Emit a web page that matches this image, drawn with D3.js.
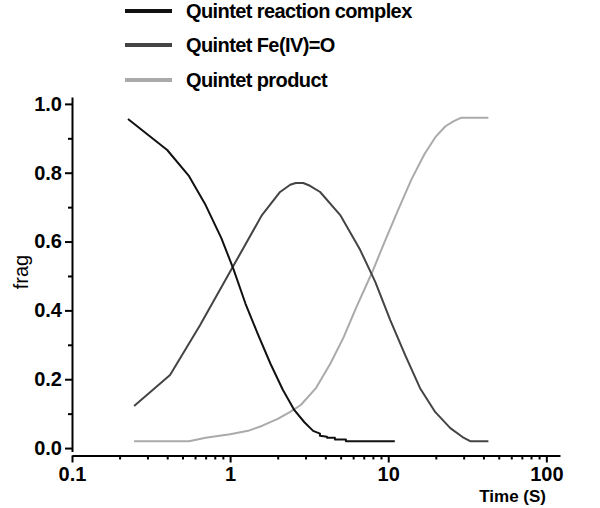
<!DOCTYPE html>
<html lang="en">
<head>
<meta charset="utf-8">
<title>frag vs time</title>
<script src="https://d3js.org/d3.v7.min.js"></script>
<style>
  body { margin: 0; background: #fff; }
  #chart1 { width: 600px; height: 508px; }
  text { font-family: "Liberation Sans", Arial, sans-serif; }
</style>
</head>
<body>
<div id="chart1"></div>
<script>
// Quintet reaction complex
const reactionTime = [0.226, 0.40, 0.55, 0.70, 0.88, 1.05, 1.25, 1.5, 1.8, 2.15, 2.55, 2.95, 3.35, 3.7, 3.7, 4.1, 4.1, 4.6, 4.6, 5.4, 5.4, 11]
const reactionFrag = [0.956, 0.866, 0.79, 0.706, 0.61, 0.52, 0.42, 0.33, 0.245, 0.17, 0.11, 0.075, 0.05, 0.042, 0.036, 0.033, 0.03, 0.03, 0.025, 0.025, 0.02, 0.02]

// Quintet Fe(IV)=O
const feoTime = [0.247, 0.417, 0.645, 1.03, 1.59, 2.07, 2.4, 2.6, 2.9, 3.2, 3.71, 4.97, 6.64, 8.28, 10.3, 12.8, 15.9, 19.8, 24.7, 29.5, 33, 43]
const feoFrag = [0.122, 0.212, 0.357, 0.523, 0.677, 0.744, 0.765, 0.77, 0.77, 0.762, 0.744, 0.677, 0.576, 0.483, 0.372, 0.27, 0.174, 0.105, 0.058, 0.032, 0.02, 0.02]

// Quintet product
const productTime = [0.247, 0.55, 0.7, 1.0, 1.3, 1.6, 2.0, 2.4, 2.8, 3.5, 4.3, 5.2, 6.3, 7.9, 9.5, 11.5, 14, 17, 20, 23, 26, 29, 43]
const productFrag = [0.02, 0.02, 0.03, 0.04, 0.05, 0.065, 0.085, 0.105, 0.125, 0.175, 0.245, 0.32, 0.41, 0.51, 0.6, 0.69, 0.78, 0.855, 0.905, 0.935, 0.95, 0.96, 0.96]

const seriesNames = ["Quintet reaction complex", "Quintet Fe(IV)=O", "Quintet product"]
const seriesColors = ["#111111", "#444444", "#aaaaaa"]

const xTickValues = [0.1, 1, 10, 100]
const xTickLabels = ["0.1", "1", "10", "100"]
const yTickValues = [0, 0.2, 0.4, 0.6, 0.8, 1.0]
const yMinorValues = [0.1, 0.3, 0.5, 0.7, 0.9]

const fragApp = {}

fragApp.buildChart = () => {
    d3.select('#chart1').html('')

    const svg = d3.select('#chart1').append('svg')
        .attr('width', 600)
        .attr('height', 508)

    // scales
    const x = d3.scaleLog().domain([0.1, 122]).range([72, 560])
    const y = d3.scaleLinear().domain([-0.01, 1.02]).range([451.5, 97])
    const xAxisY = 455.5

    //////////
    // AXES //
    //////////
    svg.append('g')
        .attr('transform', 'translate(72,0)')
        .call(d3.axisLeft(y).tickValues(yTickValues).tickFormat(d3.format('.1f')).tickSize(7).tickPadding(3).tickSizeOuter(0))
    svg.append('g')
        .attr('transform', 'translate(72,0)')
        .call(d3.axisLeft(y).tickValues(yMinorValues).tickFormat('').tickSize(4).tickSizeOuter(0))
        .select('.domain').remove()

    const xMinor = x.ticks().filter(d => xTickValues.indexOf(d) < 0 && d < 100)
    svg.append('g')
        .attr('transform', 'translate(0,' + xAxisY + ')')
        .call(d3.axisBottom(x).tickValues(xTickValues).tickFormat((d, i) => xTickLabels[i]).tickSize(7).tickPadding(4).tickSizeOuter(0))
    svg.append('g')
        .attr('transform', 'translate(0,' + xAxisY + ')')
        .call(d3.axisBottom(x).tickValues(xMinor).tickFormat('').tickSize(4).tickSizeOuter(0))
        .select('.domain').remove()

    svg.selectAll('.domain, .tick line')
        .attr('stroke', '#000')
        .attr('stroke-width', 2)
    svg.selectAll('.tick text')
        .attr('fill', '#000')
        .style('font-size', '20px')
        .style('font-weight', 'bold')

    // axis titles
    svg.append('text')
        .attr('transform', 'translate(28,272) rotate(-90)')
        .attr('text-anchor', 'middle')
        .style('font-size', '20px')
        .text('frag')
    svg.append('text')
        .attr('x', 546)
        .attr('y', 502)
        .attr('text-anchor', 'end')
        .style('font-size', '17px')
        .style('font-weight', 'bold')
        .text('Time (S)')

    ///////////
    // LINES //
    ///////////
    const series = [
        {name: seriesNames[0], t: reactionTime, v: reactionFrag},
        {name: seriesNames[1], t: feoTime, v: feoFrag},
        {name: seriesNames[2], t: productTime, v: productFrag}
    ]

    const line = d3.line()
        .x(d => x(d[0]))
        .y(d => y(d[1]))

    // product drawn first so darker curves sit on top
    ;[2, 1, 0].forEach(i => {
        const s = series[i]
        svg.append('path')
            .datum(s.t.map((t, j) => [t, s.v[j]]))
            .attr('fill', 'none')
            .attr('stroke', seriesColors[i])
            .attr('stroke-width', 2)
            .attr('stroke-linejoin', 'round')
            .attr('d', line)
    })

    ////////////
    // LEGEND //
    ////////////
    const legendY = [11, 45, 80]
    const legend = svg.selectAll('.legend-item')
        .data(seriesNames)
        .enter()
        .append('g')
        .attr('class', 'legend-item')
        .attr('transform', (d, i) => 'translate(125,' + legendY[i] + ')')
    legend.append('line')
        .attr('x1', 0).attr('x2', 47)
        .attr('stroke', (d, i) => seriesColors[i])
        .attr('stroke-width', 4)
    legend.append('text')
        .attr('x', 61)
        .attr('dy', '0.35em')
        .style('font-size', '20px')
        .style('font-weight', 'bold')
        .style('letter-spacing', '-0.6px')
        .text(d => d)
}

fragApp.buildChart()
</script>
</body>
</html>
